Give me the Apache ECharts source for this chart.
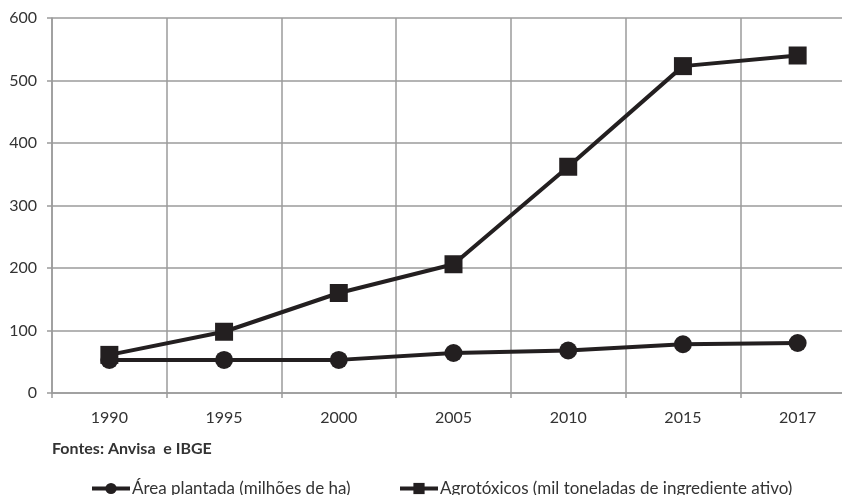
<!DOCTYPE html>
<html>
<head>
<meta charset="utf-8">
<script src="https://cdn.jsdelivr.net/npm/echarts@6/dist/echarts.min.js"></script>
<style>
  html, body { margin: 0; padding: 0; background: #fff; }
  #chart { width: 842px; height: 495px; }
</style>
</head>
<body>
<div id="chart"></div>
<script>
// Anos
const years = ['1990', '1995', '2000', '2005', '2010', '2015', '2017'];
// Área plantada (milhões de ha)
const areaPlantada = [53, 53, 53, 64, 68, 78, 80];
// Agrotóxicos (mil toneladas de ingrediente ativo)
const agrotoxicos = [61, 98, 160, 206, 362, 523, 540];
// Rótulos do eixo Y
const yTicks = [0, 100, 200, 300, 400, 500, 600];

const areaName = 'Área plantada (milhões de ha)';
const agroName = 'Agrotóxicos (mil toneladas de ingrediente ativo)';

const ink = '#231f20';
const gridGray = '#9b9b9b';
const textColor = '#333333';
const font = 'Lato, "Open Sans", sans-serif';

const chart = echarts.init(document.getElementById('chart'), null, { renderer: 'canvas' });

const legendCommon = {
  top: 475,
  itemWidth: 38,
  itemHeight: 14,
  lineStyle: { width: 4, color: ink },
  itemStyle: { color: ink },
  textStyle: { color: textColor, fontSize: 17, fontFamily: font, padding: [0, 0, 0, -3] }
};

chart.setOption({
  animation: false,
  backgroundColor: '#ffffff',
  grid: { left: 52, top: 18, width: 803, height: 375, containLabel: false, outerBoundsMode: 'none' },
  xAxis: {
    type: 'category',
    data: years,
    boundaryGap: true,
    axisLine: { show: true, lineStyle: { color: gridGray, width: 1.5 } },
    axisTick: { show: true, length: 5, lineStyle: { color: gridGray, width: 1.5 } },
    splitLine: { show: true, lineStyle: { color: gridGray, width: 1.5 } },
    axisLabel: { color: textColor, fontSize: 16, fontFamily: font, margin: 17 }
  },
  yAxis: {
    type: 'value',
    min: yTicks[0],
    max: yTicks[yTicks.length - 1],
    interval: 100,
    axisLine: { show: true, lineStyle: { color: gridGray, width: 1.5 } },
    axisTick: { show: true, length: 5, lineStyle: { color: gridGray, width: 1.5 } },
    splitLine: { show: true, lineStyle: { color: gridGray, width: 1.5 } },
    axisLabel: { color: textColor, fontSize: 16, fontFamily: font, margin: 15 }
  },
  legend: [
    Object.assign({ data: [areaName], left: 85 }, legendCommon),
    Object.assign({ data: [agroName], left: 393 }, legendCommon)
  ],
  graphic: [
    {
      type: 'text',
      left: 52, top: 441,
      style: {
        text: 'Fontes: Anvisa  e IBGE',
        fill: textColor,
        font: 'bold 16px ' + font
      }
    }
  ],
  series: [
    {
      name: areaName,
      type: 'line',
      data: areaPlantada,
      symbol: 'circle',
      symbolSize: 18,
      lineStyle: { color: ink, width: 4 },
      itemStyle: { color: ink },
      z: 3
    },
    {
      name: agroName,
      type: 'line',
      data: agrotoxicos,
      symbol: 'rect',
      symbolSize: 18,
      lineStyle: { color: ink, width: 4 },
      itemStyle: { color: ink },
      z: 4
    }
  ]
});
</script>
</body>
</html>
